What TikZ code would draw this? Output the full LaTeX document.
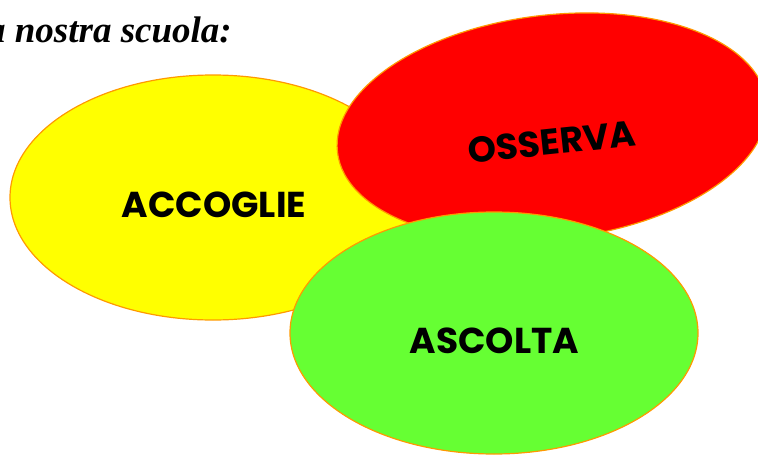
\documentclass[tikz,border=0pt]{standalone}
\usepackage{fontspec}
\setmainfont{Liberation Serif}
\newfontfamily\labfont{Poppins}
\usetikzlibrary{shapes.geometric}
\definecolor{edgeorange}{HTML}{FF9900}
\definecolor{yellowfill}{HTML}{FFFF00}
\definecolor{redfill}{HTML}{FF0000}
\definecolor{greenfill}{HTML}{66FF33}
\tikzset{
  blob/.style={ellipse, draw=edgeorange, line width=1.2pt, inner sep=0pt},
  word/.style={font=\labfont\bfseries\fontsize{36}{40}\selectfont, text=black, inner sep=0pt},
  titletext/.style={font=\bfseries\itshape\fontsize{37}{42}\selectfont, inner sep=0pt}
}
\begin{document}
\begin{tikzpicture}[x=1pt,y=-1pt]
\useasboundingbox (0,0) rectangle (758,455);
\node[titletext, anchor=base east] (title) at (232,42) {a nostra scuola:};
\node[blob, fill=yellowfill, minimum width=406pt, minimum height=245pt] (yel) at (213,197.5) {};
\node[blob, fill=redfill, minimum width=432pt, minimum height=224pt, rotate=6.7] (red) at (552,127) {};
\node[blob, fill=greenfill, minimum width=408pt, minimum height=242pt] (grn) at (494,333) {};
\node[word] (acc) at (214,205) {ACCOGLIE};
\node[word, rotate=6] (oss) at (552,142) {OSSERVA};
\node[word] (asc) at (494.5,341) {ASCOLTA};
\end{tikzpicture}
\end{document}
